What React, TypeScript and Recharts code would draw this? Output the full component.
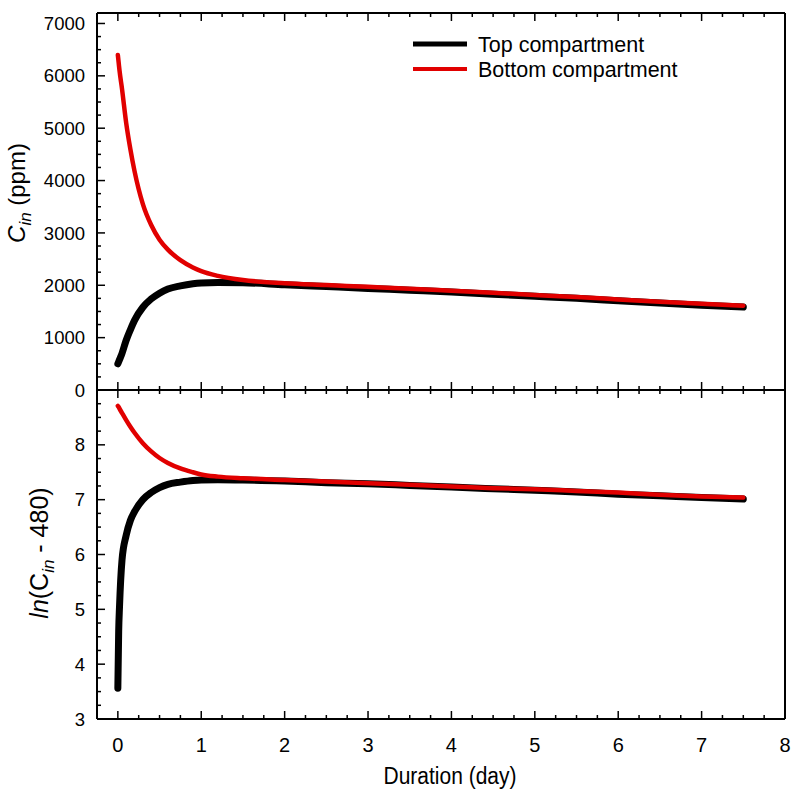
import React from 'react';
import { LineChart, Line, XAxis, YAxis, Legend, Label } from 'recharts';

// values
const days = [0, 0.01, 0.02, 0.05, 0.1, 0.15, 0.2, 0.3, 0.4, 0.5, 0.6, 0.75, 0.9, 1.0, 1.2, 1.5, 2, 2.5, 3, 3.5, 4, 4.5, 5, 5.5, 6, 6.5, 7, 7.5];
const topPpm = [500, 540, 580, 700, 950, 1150, 1330, 1580, 1740, 1850, 1930, 1990, 2030, 2045, 2055, 2050, 2010, 1975, 1940, 1905, 1870, 1830, 1790, 1750, 1705, 1660, 1620, 1585];
const bottomPpm = [6400, 6250, 6100, 5750, 5100, 4600, 4180, 3550, 3150, 2870, 2680, 2480, 2340, 2270, 2180, 2100, 2040, 2005, 1970, 1935, 1895, 1855, 1815, 1775, 1730, 1685, 1645, 1610];
const topLn = [3.56, 4.6, 5.05, 5.9, 6.35, 6.62, 6.78, 7.0, 7.13, 7.22, 7.28, 7.32, 7.35, 7.36, 7.365, 7.36, 7.34, 7.31, 7.29, 7.26, 7.23, 7.2, 7.17, 7.14, 7.1, 7.07, 7.04, 7.01];
const bottomLn = [8.71, 8.69, 8.66, 8.58, 8.45, 8.33, 8.22, 8.03, 7.88, 7.76, 7.67, 7.57, 7.5, 7.46, 7.42, 7.39, 7.36, 7.33, 7.3, 7.27, 7.24, 7.21, 7.19, 7.16, 7.13, 7.09, 7.06, 7.04];

const xTicks = Array.from({ length: 33 }, (_, i) => i * 0.25);
const ppmTicks = Array.from({ length: 29 }, (_, i) => i * 250);
const lnTicks = Array.from({ length: 25 }, (_, i) => 3 + i * 0.25);

const ppmData = days.map((d, i) => ({ day: d, top: topPpm[i], bottom: bottomPpm[i] }));
const lnData = days.map((d, i) => ({ day: d, top: topLn[i], bottom: bottomLn[i] }));

const RED = '#e10000';
const FONT = 'Arial, "Liberation Sans", sans-serif';

const isMajor = (v: number, step: number) => Math.abs(v / step - Math.round(v / step)) < 1e-6;

// inside-pointing ticks, labels outside
const makeTick = (side: string, step: number, label?: (v: number) => boolean) => (props: any) => {
  const { x, y, payload } = props;
  const v = payload.value;
  const major = isMajor(v, step);
  const len = major ? 8 : 4;
  let line;
  if (side === 'bottom') line = <line x1={x} x2={x} y1={y} y2={y - len} />;
  else if (side === 'top') line = <line x1={x} x2={x} y1={y} y2={y + len} />;
  else if (side === 'left') line = <line x1={x} x2={x + len} y1={y} y2={y} />;
  else line = <line x1={x} x2={x - len} y1={y} y2={y} />;
  const show = major && label && label(v);
  return (
    <g>
      <g stroke="#000" strokeWidth={1.5}>{line}</g>
      {show && side === 'bottom' && (
        <text x={x} y={y + 33} textAnchor="middle" fontSize={20} fontFamily={FONT} fill="#000">{v}</text>
      )}
      {show && side === 'left' && (
        <text x={x - 12} y={y} dy="0.36em" textAnchor="end" fontSize={18.5} fontFamily={FONT} fill="#000">{v}</text>
      )}
    </g>
  );
};

const axisLine = { stroke: '#000', strokeWidth: 2 };

const PpmTitle = () => {
  const cx = 25;
  const cy = 193;
  return (
    <text transform={`rotate(-90, ${cx}, ${cy})`} x={cx} y={cy} textAnchor="middle" fontSize={24} fontFamily={FONT} fill="#000">
      <tspan fontStyle="italic">C</tspan>
      <tspan fontStyle="italic" fontSize={17} dy={6}>in</tspan>
      <tspan dy={-6}> (ppm)</tspan>
    </text>
  );
};

const LnTitle = () => {
  const cx = 48;
  const cy = 164;
  return (
    <text transform={`rotate(-90, ${cx}, ${cy})`} x={cx} y={cy} textAnchor="middle" fontSize={25} fontFamily={FONT} fill="#000">
      <tspan fontStyle="italic">ln</tspan>
      <tspan>(C</tspan>
      <tspan fontStyle="italic" fontSize={17} dy={6}>in</tspan>
      <tspan dy={-6}> - 480)</tspan>
    </text>
  );
};

const XTitle = () => (
  <text transform="translate(450, 395) scale(1, 1.15)" x={0} y={0} textAnchor="middle" fontSize={21} fontFamily={FONT} fill="#000">Duration (day)</text>
);

const LegendBox = () => (
  <svg width={320} height={60}>
    <line x1={3} x2={57} y1={14} y2={14} stroke="#000" strokeWidth={5} />
    <text x={68} y={14} dy="0.36em" fontSize={21.5} fontFamily={FONT} fill="#000">Top compartment</text>
    <line x1={3} x2={57} y1={39} y2={39} stroke={RED} strokeWidth={4} />
    <text x={68} y={39} dy="0.36em" fontSize={21.5} fontFamily={FONT} fill="#000">Bottom compartment</text>
  </svg>
);

export default function App() {
  return (
    <div style={{ position: 'absolute', top: 0, left: 0, width: 800, height: 800, background: '#fff' }}>
      <div style={{ position: 'absolute', top: 0, left: 0 }}>
        <LineChart width={800} height={410} data={ppmData} margin={{ top: 12, right: 14, bottom: 19, left: 0 }}>
          <XAxis dataKey="day" type="number" domain={[-0.25, 8]} ticks={xTicks} interval={0} height={1}
            tickSize={0} tickMargin={0} axisLine={axisLine} tickLine={false} tick={makeTick('bottom', 1)} />
          <XAxis xAxisId="t" orientation="top" dataKey="day" type="number" domain={[-0.25, 8]} ticks={xTicks} interval={0} height={1}
            tickSize={0} tickMargin={0} axisLine={axisLine} tickLine={false} tick={makeTick('top', 1)} />
          <YAxis type="number" domain={[0, 7200]} ticks={ppmTicks} interval={0} width={97} allowDataOverflow
            tickSize={0} tickMargin={0} axisLine={axisLine} tickLine={false} tick={makeTick('left', 1000, () => true)}>
            <Label content={PpmTitle} />
          </YAxis>
          <YAxis yAxisId="r" orientation="right" type="number" domain={[0, 7200]} ticks={ppmTicks} interval={0} width={1}
            tickSize={0} tickMargin={0} axisLine={axisLine} tickLine={false} tick={makeTick('right', 1000)} />
          <Legend layout="horizontal" verticalAlign="middle" align="center"
            wrapperStyle={{ top: 30, left: 410, width: 320 }} content={LegendBox} />
          <Line dataKey="top" name="Top compartment" type="monotone" stroke="#000" strokeWidth={7} strokeLinecap="round" dot={false} isAnimationActive={false} />
          <Line dataKey="bottom" name="Bottom compartment" type="monotone" stroke={RED} strokeWidth={4.5} strokeLinecap="round" dot={false} isAnimationActive={false} />
        </LineChart>
      </div>
      <div style={{ position: 'absolute', top: 389, left: 0 }}>
        <LineChart width={800} height={411} data={lnData} margin={{ top: 0, right: 14, bottom: 80, left: 0 }}>
          <XAxis dataKey="day" type="number" domain={[-0.25, 8]} ticks={xTicks} interval={0} height={1}
            tickSize={0} tickMargin={0} axisLine={axisLine} tickLine={false} tick={makeTick('bottom', 1, () => true)}>
            <Label content={XTitle} />
          </XAxis>
          <XAxis xAxisId="t" orientation="top" dataKey="day" type="number" domain={[-0.25, 8]} ticks={xTicks} interval={0} height={1}
            tickSize={0} tickMargin={0} axisLine={axisLine} tickLine={false} tick={makeTick('top', 1)} />
          <YAxis type="number" domain={[3, 9]} ticks={lnTicks} interval={0} width={97} allowDataOverflow
            tickSize={0} tickMargin={0} axisLine={axisLine} tickLine={false} tick={makeTick('left', 1, (v) => v < 9)}>
            <Label content={LnTitle} />
          </YAxis>
          <YAxis yAxisId="r" orientation="right" type="number" domain={[3, 9]} ticks={lnTicks} interval={0} width={1}
            tickSize={0} tickMargin={0} axisLine={axisLine} tickLine={false} tick={makeTick('right', 1)} />
          <Line dataKey="top" type="monotone" stroke="#000" strokeWidth={7} strokeLinecap="round" dot={false} isAnimationActive={false} />
          <Line dataKey="bottom" type="monotone" stroke={RED} strokeWidth={4.5} strokeLinecap="round" dot={false} isAnimationActive={false} />
        </LineChart>
      </div>
    </div>
  );
}
